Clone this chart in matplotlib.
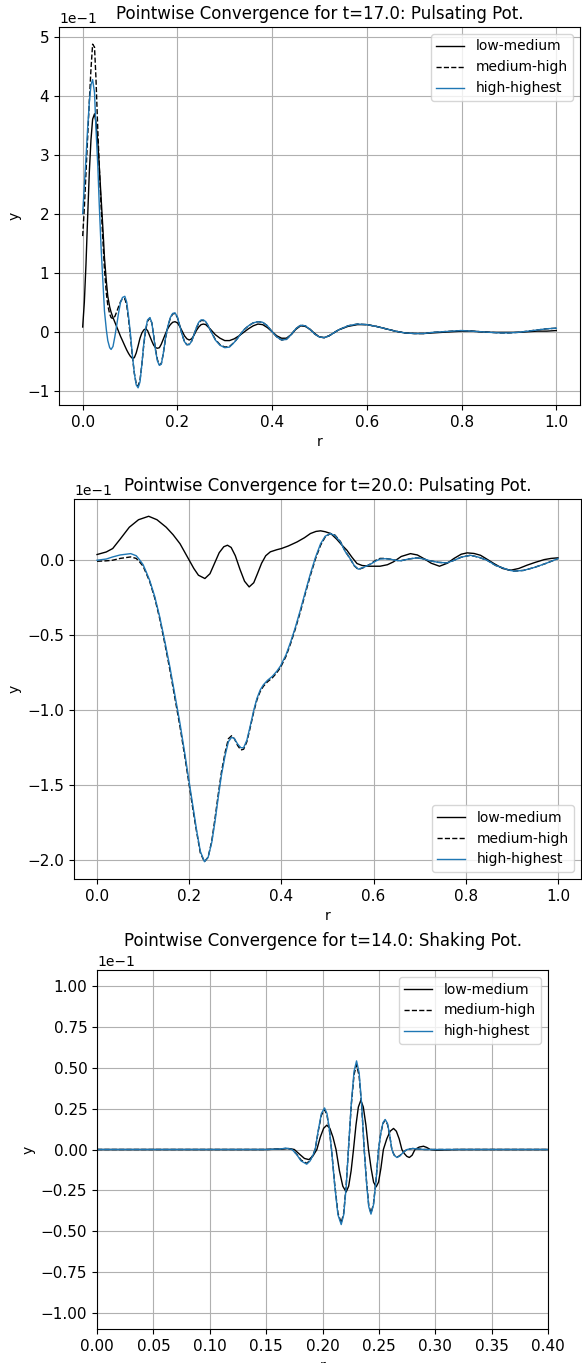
import numpy as np
import matplotlib
matplotlib.use('Agg')
import matplotlib.pyplot as plt

SCALE = 0.1  # values below are in units of 1e-1

labels = ['low-medium', 'medium-high', 'high-highest']
titles = ['Pointwise Convergence for t=17.0: Pulsating Pot.',
          'Pointwise Convergence for t=20.0: Pulsating Pot.',
          'Pointwise Convergence for t=14.0: Shaking Pot.']

# ---------------- Panel 1 ----------------
p1_r = [0, 0.0035, 0.007, 0.0105, 0.014, 0.0175, 0.021, 0.025, 0.028, 0.032,
        0.035, 0.039, 0.043, 0.046, 0.050, 0.053, 0.057, 0.060, 0.064, 0.068,
        0.072, 0.076, 0.080, 0.084, 0.089, 0.093, 0.097, 0.101, 0.105, 0.109,
        0.113, 0.117, 0.121, 0.125, 0.129, 0.133, 0.137, 0.142, 0.146, 0.150,
        0.154, 0.158, 0.162, 0.166, 0.170, 0.175, 0.180, 0.185, 0.190, 0.195,
        0.200, 0.205, 0.210, 0.215, 0.220, 0.225, 0.230, 0.235, 0.240, 0.245,
        0.250, 0.255, 0.260, 0.265, 0.270, 0.28, 0.29, 0.30, 0.31, 0.32,
        0.33, 0.34, 0.35, 0.36, 0.37, 0.38, 0.39, 0.40, 0.41, 0.42,
        0.43, 0.44, 0.45, 0.46, 0.47, 0.48, 0.49, 0.50, 0.51, 0.52,
        0.53, 0.54, 0.56, 0.58, 0.60, 0.62, 0.64, 0.66, 0.68, 0.70,
        0.72, 0.74, 0.76, 0.78, 0.80, 0.82, 0.84, 0.86, 0.88, 0.90,
        0.92, 0.94, 0.96, 0.98, 1.00]
p1_low = [0.08, 0.5, 1.15, 1.95, 2.7, 3.25, 3.6, 3.69, 3.55, 3.2,
          2.8, 2.25, 1.7, 1.25, 0.85, 0.6, 0.42, 0.33, 0.24, 0.16,
          0.08, 0.0, -0.08, -0.15, -0.24, -0.31, -0.37, -0.42, -0.45, -0.44,
          -0.36, -0.24, -0.11, -0.02, 0.03, 0.05, 0.02, -0.08, -0.16, -0.23,
          -0.27, -0.28, -0.27, -0.21, -0.13, -0.03, 0.06, 0.12, 0.16, 0.17,
          0.15, 0.09, 0.01, -0.07, -0.12, -0.14, -0.12, -0.06, 0.02, 0.08,
          0.12, 0.13, 0.12, 0.08, 0.04, -0.05, -0.11, -0.15, -0.15, -0.12,
          -0.07, -0.01, 0.05, 0.10, 0.13, 0.12, 0.07, 0.0, -0.07, -0.11,
          -0.11, -0.05, 0.04, 0.10, 0.09, 0.04, -0.03, -0.09, -0.10, -0.07,
          -0.02, 0.03, 0.09, 0.12, 0.12, 0.09, 0.05, 0.01, -0.02, -0.03,
          -0.03, -0.02, -0.01, 0.0, 0.01, 0.01, 0.0, -0.01, -0.01, -0.01,
          -0.01, 0.0, 0.01, 0.01, 0.02]
p1_med = [1.62, 2.1, 2.7, 3.3, 3.9, 4.45, 4.87, 4.82, 4.3, 3.4,
          2.8, 2.1, 1.5, 1.05, 0.65, 0.45, 0.30, 0.24, 0.22, 0.26,
          0.34, 0.43, 0.51, 0.56, 0.56, 0.45, 0.20, -0.10, -0.42, -0.70,
          -0.88, -0.92, -0.82, -0.55, -0.22, 0.03, 0.18, 0.23, 0.15, -0.07,
          -0.31, -0.48, -0.56, -0.54, -0.38, -0.11, 0.09, 0.23, 0.30, 0.31,
          0.24, 0.10, -0.05, -0.17, -0.22, -0.21, -0.16, -0.05, 0.06, 0.15,
          0.19, 0.19, 0.16, 0.10, 0.02, -0.13, -0.22, -0.26, -0.25, -0.18,
          -0.08, 0.03, 0.10, 0.15, 0.17, 0.16, 0.10, 0.0, -0.09, -0.14,
          -0.13, -0.05, 0.05, 0.11, 0.10, 0.04, -0.04, -0.09, -0.10, -0.07,
          -0.02, 0.03, 0.10, 0.13, 0.12, 0.09, 0.05, 0.01, -0.02, -0.03,
          -0.03, -0.01, 0.0, 0.01, 0.02, 0.01, 0.0, -0.01, -0.02, -0.02,
          -0.01, 0.01, 0.03, 0.05, 0.06]
p1_high = [2.0, 2.47, 2.95, 3.45, 3.88, 4.18, 4.27, 4.05, 3.45, 2.8,
           2.15, 1.4, 0.8, 0.35, 0.03, -0.15, -0.27, -0.30, -0.25, -0.08,
           0.12, 0.33, 0.50, 0.58, 0.60, 0.50, 0.25, -0.05, -0.40, -0.70,
           -0.90, -0.95, -0.85, -0.55, -0.20, 0.05, 0.20, 0.24, 0.15, -0.08,
           -0.33, -0.50, -0.57, -0.55, -0.38, -0.10, 0.10, 0.24, 0.31, 0.32,
           0.25, 0.10, -0.05, -0.17, -0.22, -0.22, -0.16, -0.05, 0.07, 0.16,
           0.20, 0.20, 0.17, 0.10, 0.02, -0.14, -0.23, -0.27, -0.26, -0.18,
           -0.08, 0.03, 0.10, 0.15, 0.17, 0.16, 0.10, 0.0, -0.09, -0.14,
           -0.13, -0.05, 0.05, 0.11, 0.10, 0.04, -0.04, -0.09, -0.10, -0.07,
           -0.02, 0.03, 0.10, 0.13, 0.12, 0.09, 0.05, 0.01, -0.02, -0.03,
           -0.03, -0.01, 0.0, 0.01, 0.02, 0.01, 0.0, -0.01, -0.02, -0.02,
           -0.01, 0.01, 0.03, 0.05, 0.06]

# ---------------- Panel 2 ----------------
p2_low_r = [0, 0.02, 0.034, 0.05, 0.07, 0.09, 0.112, 0.13, 0.15, 0.165,
            0.18, 0.19, 0.2, 0.21, 0.22, 0.234, 0.245, 0.255, 0.265, 0.275,
            0.283, 0.291, 0.3, 0.31, 0.32, 0.33, 0.34, 0.348, 0.357, 0.366,
            0.376, 0.39, 0.4, 0.415, 0.434, 0.45, 0.463, 0.475, 0.485, 0.495,
            0.507, 0.52, 0.53, 0.542, 0.553, 0.564, 0.575, 0.59, 0.614, 0.63,
            0.643, 0.66, 0.68, 0.695, 0.709, 0.725, 0.743, 0.76, 0.774, 0.79,
            0.803, 0.818, 0.832, 0.847, 0.861, 0.88, 0.897, 0.915, 0.933, 0.95,
            0.97, 0.985, 1.0]
p2_low = [0.038, 0.055, 0.078, 0.14, 0.22, 0.27, 0.293, 0.27, 0.22, 0.17,
          0.11, 0.055, 0.0, -0.055, -0.10, -0.122, -0.09, -0.02, 0.05, 0.09,
          0.10, 0.085, 0.03, -0.06, -0.14, -0.178, -0.15, -0.09, -0.02, 0.03,
          0.056, 0.07, 0.078, 0.095, 0.122, 0.15, 0.178, 0.192, 0.196, 0.19,
          0.178, 0.14, 0.105, 0.067, 0.02, -0.022, -0.035, -0.04, -0.04, -0.03,
          -0.011, 0.025, 0.044, 0.035, 0.011, -0.02, -0.04, -0.02, 0.011, 0.04,
          0.049, 0.045, 0.033, 0.005, -0.022, -0.055, -0.067, -0.055, -0.033, -0.015,
          0.004, 0.012, 0.016]

p2_high_r = [0, 0.02, 0.034, 0.05, 0.073, 0.085, 0.092, 0.1, 0.107, 0.114,
             0.125, 0.136, 0.147, 0.158, 0.169, 0.18, 0.191, 0.2015, 0.209, 0.216,
             0.224, 0.233, 0.241, 0.249, 0.256, 0.263, 0.27, 0.278, 0.285, 0.292,
             0.298, 0.305, 0.312, 0.318, 0.325, 0.332, 0.34, 0.347, 0.354, 0.361,
             0.37, 0.38, 0.39, 0.398, 0.41, 0.42, 0.43, 0.441, 0.452, 0.463,
             0.474, 0.485, 0.495, 0.506, 0.516, 0.528, 0.538, 0.549, 0.558, 0.567,
             0.58, 0.593, 0.605, 0.614, 0.625, 0.636, 0.647, 0.658, 0.676, 0.694,
             0.709, 0.723, 0.74, 0.759, 0.775, 0.79, 0.81, 0.828, 0.846, 0.865,
             0.89, 0.904, 0.925, 0.948, 0.975, 1.0]
p2_high = [0.0, 0.008, 0.022, 0.035, 0.044, 0.03, 0.004, -0.03, -0.08, -0.133,
           -0.24, -0.378, -0.54, -0.711, -0.90, -1.089, -1.30, -1.511, -1.66, -1.80,
           -1.94, -2.01, -1.98, -1.88, -1.74, -1.58, -1.43, -1.30, -1.21, -1.18,
           -1.19, -1.225, -1.25, -1.25, -1.20, -1.11, -1.00, -0.92, -0.865, -0.83,
           -0.80, -0.775, -0.74, -0.705, -0.63, -0.545, -0.45, -0.333, -0.21, -0.089,
           0.02, 0.11, 0.16, 0.178, 0.165, 0.122, 0.06, 0.011, -0.035, -0.06,
           -0.045, -0.027, -0.005, 0.008, 0.01, 0.007, 0.0, -0.004, 0.008, 0.016,
           0.008, -0.004, -0.014, -0.018, 0.0, 0.02, 0.033, 0.02, 0.0, -0.035,
           -0.062, -0.073, -0.068, -0.049, -0.02, 0.011]
p2_med_r = p2_high_r
p2_med = [-0.007, -0.004, 0.0, 0.012, 0.022, 0.012, -0.01, -0.04, -0.09, -0.14,
          -0.25, -0.39, -0.555, -0.73, -0.92, -1.11, -1.32, -1.53, -1.68, -1.81,
          -1.95, -2.01, -1.98, -1.87, -1.72, -1.56, -1.41, -1.28, -1.19, -1.17,
          -1.19, -1.235, -1.265, -1.26, -1.21, -1.12, -1.01, -0.93, -0.875, -0.84,
          -0.81, -0.785, -0.75, -0.715, -0.64, -0.555, -0.46, -0.345, -0.22, -0.10,
          0.01, 0.10, 0.155, 0.178, 0.168, 0.125, 0.062, 0.011, -0.037, -0.062,
          -0.047, -0.025, 0.0, 0.012, 0.012, 0.007, 0.0, -0.004, 0.008, 0.016,
          0.008, -0.004, -0.014, -0.018, 0.0, 0.02, 0.033, 0.02, 0.0, -0.035,
          -0.062, -0.073, -0.068, -0.049, -0.02, 0.011]

# ---------------- Panel 3 ----------------
p3_high_r = [0.0, 0.15, 0.162, 0.168, 0.173, 0.177, 0.181, 0.186, 0.189, 0.1915,
             0.1935, 0.1963, 0.199, 0.2018, 0.204, 0.206, 0.208, 0.2108, 0.2137, 0.2166,
             0.2188, 0.221, 0.223, 0.2255, 0.228, 0.2302, 0.2325, 0.2348, 0.237, 0.239,
             0.241, 0.243, 0.2452, 0.2475, 0.2497, 0.2517, 0.2537, 0.2556, 0.2576, 0.2596,
             0.2615, 0.2635, 0.266, 0.2685, 0.272, 0.275, 0.28, 0.285, 0.29, 0.4]
p3_high = [0.0, 0.0, 0.003, 0.008, 0.0, -0.03, -0.07, -0.09, -0.07, -0.035,
           0.0, 0.12, 0.22, 0.255, 0.22, 0.13, 0.0, -0.22, -0.40, -0.46,
           -0.40, -0.23, 0.0, 0.28, 0.48, 0.543, 0.47, 0.27, 0.0, -0.2,
           -0.35, -0.396, -0.34, -0.19, 0.0, 0.1, 0.165, 0.184, 0.16, 0.09,
           0.0, -0.035, -0.049, -0.04, -0.015, 0.0, 0.006, 0.003, 0.0, 0.0]
p3_med_r = p3_high_r
p3_med = [0.0, 0.0, 0.003, 0.007, 0.0, -0.028, -0.065, -0.085, -0.066, -0.033,
          0.0, 0.115, 0.21, 0.245, 0.21, 0.125, 0.0, -0.21, -0.39, -0.45,
          -0.39, -0.22, 0.0, 0.27, 0.46, 0.52, 0.45, 0.26, 0.0, -0.19,
          -0.34, -0.39, -0.335, -0.185, 0.0, 0.1, 0.16, 0.18, 0.155, 0.085,
          0.0, -0.033, -0.047, -0.038, -0.014, 0.0, 0.006, 0.003, 0.0, 0.0]
p3_low_r = [0.0, 0.15, 0.165, 0.17, 0.175, 0.179, 0.184, 0.188, 0.1915, 0.195,
            0.198, 0.201, 0.2038, 0.2065, 0.2093, 0.212, 0.215, 0.218, 0.221, 0.2232,
            0.2254, 0.2275, 0.2297, 0.2318, 0.234, 0.2362, 0.2385, 0.2408, 0.2431, 0.2453,
            0.2476, 0.2497, 0.2518, 0.254, 0.257, 0.260, 0.263, 0.2655, 0.268, 0.2704,
            0.2726, 0.2748, 0.277, 0.2795, 0.282, 0.2858, 0.2896, 0.2926, 0.2956, 0.301,
            0.31, 0.32, 0.4]
p3_low = [0.0, 0.0, 0.003, 0.006, 0.0, -0.025, -0.055, -0.062, -0.04, 0.0,
          0.075, 0.13, 0.149, 0.13, 0.075, 0.0, -0.13, -0.225, -0.26, -0.225,
          -0.13, 0.0, 0.15, 0.26, 0.302, 0.26, 0.15, 0.0, -0.115, -0.2,
          -0.229, -0.2, -0.115, 0.0, 0.065, 0.112, 0.129, 0.112, 0.065, 0.0,
          -0.025, -0.042, -0.049, -0.035, 0.0, 0.015, 0.02, 0.012, 0.0, -0.004,
          -0.002, 0.0, 0.0]

W, H = 582, 1363
fig = plt.figure(figsize=(W / 100, H / 100), dpi=100)


def add_ax(l, t, r, b):
    return fig.add_axes([l / W, 1 - b / H, (r - l) / W, (b - t) / H])


def draw(ax, rs, ys, title, loc):
    styles = [dict(color='black', ls='-'), dict(color='black', ls='--'),
              dict(color='#1f77b4', ls='-')]
    for (r, y), lab, st in zip(zip(rs, ys), labels, styles):
        ax.plot(r, np.array(y) * SCALE, lw=1, label=lab, **st)
    ax.set_title(title)
    ax.set_xlabel('r')
    ax.set_ylabel('y')
    ax.grid(True)
    ax.ticklabel_format(axis='y', style='sci', scilimits=(0, 0))
    ax.tick_params(axis='both', labelsize=11)
    ax.legend(loc=loc)


ax1 = add_ax(59, 27, 580, 405)
draw(ax1, [p1_r, p1_r, p1_r], [p1_low, p1_med, p1_high], titles[0], 'upper right')

ax2 = add_ax(74, 499, 581, 879)
draw(ax2, [p2_low_r, p2_med_r, p2_high_r], [p2_low, p2_med, p2_high], titles[1], 'lower right')

ax3 = add_ax(97, 970, 548, 1329)
draw(ax3, [p3_low_r, p3_med_r, p3_high_r], [p3_low, p3_med, p3_high], titles[2], 'upper right')
ax3.set_xlim(0, 0.4)
ax3.set_ylim(-0.11, 0.11)

fig.savefig('out.png', dpi=100)
